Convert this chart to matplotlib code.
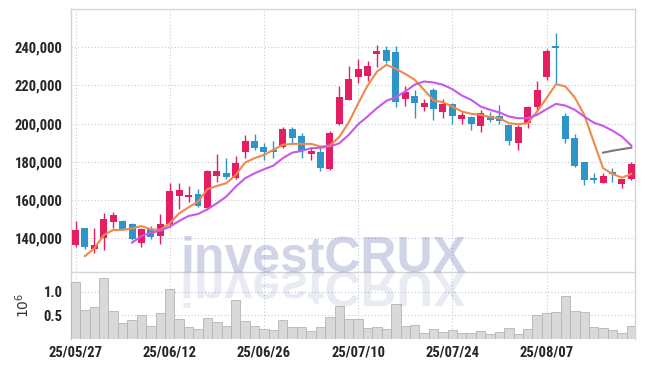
import numpy as np
import matplotlib
matplotlib.use("Agg")
import matplotlib.pyplot as plt
from matplotlib.textpath import TextPath
from matplotlib.patches import PathPatch
from matplotlib.font_manager import FontProperties
from matplotlib.transforms import Affine2D

# ---- data ----
opens  = [136500, 145200, 134200, 140300, 148400, 149200, 147300, 137700, 144700, 141400,
          147300, 162300, 161800, 163200, 155800, 172800, 174000, 171600, 185300, 191000,
          188000, 186300, 188000, 197100, 193600, 184200, 184900, 176300, 199800, 212400,
          224300, 225100, 236300, 238600, 237200, 213100, 214500, 208900, 217600, 205800,
          210200, 202500, 203200, 198800, 203700, 203700, 199200, 190100, 200400, 208900,
          224300, 240700, 204100, 192700, 179800, 171300, 168900, 174700, 168400, 171100]
closes = [144300, 135600, 136500, 150100, 152200, 145000, 139800, 144900, 140500, 147300,
          164600, 165100, 162700, 157100, 175100, 175100, 172300, 179600, 190800, 187200,
          184900, 184900, 197200, 192300, 185700, 185800, 177000, 195000, 213800, 223300,
          228600, 230200, 238100, 232800, 211500, 216400, 211000, 210700, 207500, 210200,
          204200, 204600, 200000, 205300, 201800, 201300, 190900, 198400, 208700, 217600,
          238100, 239300, 191900, 178000, 170300, 170300, 172700, 173500, 171100, 178700]
highs  = [149200, 145200, 145200, 153100, 153900, 149600, 147900, 145200, 146600, 152600,
          168800, 168800, 167400, 165700, 175800, 184000, 181900, 182900, 194200, 194500,
          189700, 191000, 198100, 198100, 195300, 188000, 188000, 196200, 219900, 229900,
          233900, 232800, 241200, 240300, 240300, 219400, 217300, 212800, 218500, 212800,
          211000, 206000, 203700, 207200, 206000, 209600, 199200, 199000, 209300, 222000,
          239000, 247300, 205400, 194500, 179800, 174000, 174000, 176800, 171100, 180100]
lows   = [135600, 134500, 132500, 133900, 145200, 144700, 139100, 135300, 139500, 136900,
          146100, 155300, 159200, 156400, 155000, 169600, 171000, 171000, 181900, 186200,
          181200, 181900, 187100, 189200, 181900, 181200, 175400, 175900, 199500, 212100,
          221200, 222000, 229800, 231600, 208600, 209300, 202800, 206800, 201900, 202800,
          199800, 199800, 196700, 195500, 200900, 199800, 188900, 186300, 197900, 206800,
          222900, 221200, 189700, 177500, 167800, 168900, 168900, 169600, 166400, 170500]
volumes = [1210000, 605000, 670000, 1300000, 584000, 333000, 390000, 500000, 260000, 540000,
           1060000, 420000, 240000, 200000, 440000, 354000, 260000, 820000, 370000, 260000,
           200000, 180000, 390000, 240000, 240000, 154000, 240000, 455000, 690000, 420000,
           420000, 225000, 247000, 200000, 740000, 260000, 283000, 110000, 197000, 140000,
           175000, 110000, 110000, 154000, 90000, 133000, 218000, 90000, 197000, 500000,
           540000, 570000, 905000, 590000, 570000, 247000, 225000, 180000, 118000, 260000]
nan = np.nan
ma_short = [nan, 130700, 134800, 141700, 144400, 144400, 145200, 146400, 144700, 144400,
            147900, 153100, 156200, 159200, 165700, 167400, 168800, 173100, 179600, 181900,
            183600, 186200, 188900, 189400, 189400, 189400, 188000, 188500, 193000, 200600,
            210500, 219800, 227200, 230700, 228600, 226000, 222900, 217600, 212100, 211200,
            208900, 206300, 205100, 204600, 203400, 202800, 200200, 199700, 200200, 206300,
            213300, 220600, 219400, 213600, 204600, 190600, 176700, 173700, 171700, 173700]
ma_long = [nan] * 6 + [137700, 141200, 142900, 144000,
           146100, 149100, 151700, 152700, 155200, 158300, 161800, 167000, 171400, 174000,
           176100, 178000, 181900, 184800, 185700, 187100, 187400, 188000, 189700, 194100,
           199600, 203700, 208100, 211900, 213800, 216800, 220300, 222000, 221500, 220300,
           218000, 214700, 212400, 208900, 207200, 205800, 203700, 202800, 202800, 204600,
           207500, 210300, 209400, 207200, 203700, 200500, 198800, 196300, 193200, 188500]
ma_gray = [nan] * 56 + [184800, 185800, 186600, 187400]
date_labels = ['25/05/27', '25/06/12', '25/06/26', '25/07/10', '25/07/24', '25/08/07']

UP = '#e41e63'
DOWN = '#2f95c8'
GRID = '#c5c9dc'
font = ['Roboto Condensed', 'Archivo Narrow', 'Asap Condensed', 'DejaVu Sans']

W, H = 645, 366
fig = plt.figure(figsize=(W / 100, H / 100), dpi=100)
fig.patch.set_facecolor('white')
ax = fig.add_axes([71 / W, 1 - 272 / H, 564 / W, 263 / H])
axv = fig.add_axes([71 / W, 1 - 338.5 / H, 564 / W, 66.5 / H], sharex=ax)

x = np.arange(len(opens))
o = np.array(opens); c = np.array(closes)
colors = [UP if cc >= oo else DOWN for oo, cc in zip(o, c)]
ax.vlines(x, lows, highs, colors=colors, lw=1.0, zorder=3)
body = np.maximum(np.abs(c - o), 700)
ax.bar(x, body, bottom=np.minimum(o, c), width=0.74, color=colors, zorder=4, linewidth=0)

ax.plot(x, ma_short, color='#f0894a', lw=1.5, zorder=5)
ax.plot(x, ma_long, color='#c957ea', lw=1.5, zorder=5)
ax.plot(x, ma_gray, color='#7a7a7a', lw=1.5, zorder=5)

ax.set_xlim(-0.48, 59.39)
ax.set_ylim(122400, 259900)
ax.set_yticks(range(140000, 240001, 20000))
ax.yaxis.set_major_formatter(matplotlib.ticker.FuncFormatter(lambda v, p: f'{int(v):,}'))
ticks = list(range(0, 60, 10))
ax.set_xticks(ticks)
ax.tick_params(axis='x', labelbottom=False, length=0)
ax.tick_params(axis='y', length=0, pad=6, labelsize=10.5, labelcolor='#262626')
for lab in ax.get_yticklabels():
    lab.set_family(font)
    lab.set_fontweight('bold')
ax.grid(True, color=GRID, ls=(0, (1, 2)), lw=0.8)
ax.set_axisbelow(True)
ax.set_facecolor('none')
for s in ax.spines.values():
    s.set_color('#d4d4d8')
    s.set_linewidth(1.0)

vol_m = np.array(volumes) / 1e6
axv.bar(x, vol_m, width=1.0, color='#d9d9d9', edgecolor='#b5b5b5', linewidth=0.6, zorder=3)
axv.set_ylim(0, 1.43)
axv.set_yticks([0.5, 1.0])
axv.set_yticklabels(['0.5', '1.0'])
axv.set_xticks(ticks)
axv.set_xticklabels(date_labels)
axv.tick_params(length=0, labelsize=10.5, labelcolor='#262626')
axv.tick_params(axis='y', pad=6)
axv.tick_params(axis='x', pad=5)
for lab in axv.get_yticklabels() + axv.get_xticklabels():
    lab.set_family(font)
    lab.set_fontweight('bold')
axv.set_ylabel('$10^6$', fontsize=10, color='#333333')
axv.yaxis.set_label_coords(-39 / 564, 0.5)
axv.grid(True, color=GRID, ls=(0, (1, 2)), lw=0.8)
axv.set_axisbelow(True)
axv.set_facecolor('none')
for k, s in axv.spines.items():
    s.set_color('#d4d4d8')
    s.set_linewidth(1.0)
axv.spines['bottom'].set_visible(False)
axv.spines['top'].set_visible(False)

# watermark and its reflection
wm_x, wm_base = 180, H - 271.7
wm_size = 36
fig.text(wm_x / W, wm_base / H, 'investCRUX', fontsize=wm_size, fontweight='bold',
         family='Liberation Sans', color='#2b3f8f', alpha=0.22, va='baseline', zorder=10)
tp = TextPath((0, 0), 'investCRUX', size=wm_size * 100 / 72,
              prop=FontProperties(family='Liberation Sans', weight='bold'))
refl = PathPatch(tp, transform=Affine2D().scale(1, -1).translate(wm_x, wm_base),
                 facecolor='#2b3f8f', edgecolor='none', alpha=0.1, zorder=10)
fig.add_artist(refl)

fig.savefig('out.png', dpi=100)
